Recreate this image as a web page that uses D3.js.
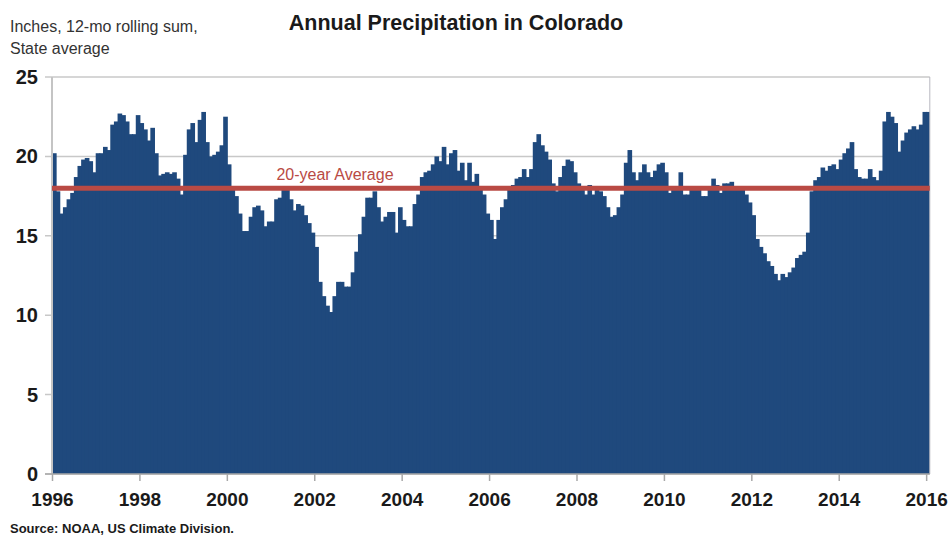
<!DOCTYPE html>
<meta charset="utf-8">
<style>
body { margin: 0; background: #fff; }
svg { display: block; font-family: "Liberation Sans", Arial, Helvetica, sans-serif; }
.axis text { font-weight: bold; fill: #1a1a1a; }
.axis .domain { display: none; }
</style>
<body>
<svg id="chart" width="949" height="537"></svg>
<script src="https://cdnjs.cloudflare.com/ajax/libs/d3/7.8.5/d3.min.js"></script>
<script>
// 12-month rolling precipitation sum, Colorado state average (inches), monthly Jan 1996 .. Jan 2016
var startYear = 1996;
var yTicks = [0, 5, 10, 15, 20, 25];
var tickYears = [1996, 1998, 2000, 2002, 2004, 2006, 2008, 2010, 2012, 2014, 2016];
var twentyYearAverage = 18.0;

var sum1996to2000 = [
  20.2, 17.8, 16.4, 16.8, 17.3, 17.7, 18.7, 19.4, 19.8, 19.9, 19.7, 19.0,
  20.2, 20.2, 20.6, 20.4, 22.0, 22.2, 22.7, 22.6, 22.2, 21.4, 21.4, 22.6,
  22.1, 21.7, 21.0, 21.8, 20.2, 18.8, 18.9, 19.0, 18.9, 19.0, 18.6, 17.6,
  20.1, 21.7, 22.1, 20.9, 22.3, 22.8, 20.9, 20.0, 20.1, 20.3, 20.7, 22.5,
  19.5, 18.0, 17.5, 16.4, 15.3, 15.3, 16.2, 16.8, 16.9, 16.6, 15.6, 15.9
];
var sum2001to2005 = [
  15.9, 17.3, 17.4, 17.9, 17.9, 17.3, 16.6, 17.0, 16.9, 16.3, 15.8, 15.2,
  14.3, 12.1, 11.2, 10.6, 10.2, 11.2, 12.1, 12.1, 11.8, 11.8, 12.7, 14.0,
  15.1, 16.2, 17.4, 17.4, 17.8, 16.8, 15.9, 16.2, 16.5, 16.5, 15.2, 16.8,
  16.0, 15.6, 15.6, 17.0, 17.6, 18.7, 19.0, 19.1, 19.5, 20.0, 19.7, 20.6,
  19.5, 20.2, 20.4, 19.1, 19.6, 18.5, 19.6, 18.4, 18.9, 18.1, 17.6, 16.4
];
var sum2006to2010 = [
  16.0, 14.8, 16.0, 16.8, 17.3, 17.9, 18.2, 18.6, 18.7, 19.2, 18.7, 19.2,
  20.9, 21.4, 20.7, 20.3, 19.8, 18.3, 17.8, 18.7, 19.4, 19.8, 19.7, 19.0,
  18.3, 18.1, 17.6, 18.2, 17.6, 17.9, 17.8, 17.5, 16.8, 16.2, 16.3, 16.8,
  17.6, 19.6, 20.4, 19.0, 18.5, 19.0, 19.5, 19.0, 18.7, 19.1, 19.5, 19.6,
  19.0, 17.7, 17.9, 17.9, 19.0, 17.6, 17.6, 17.9, 17.9, 17.9, 17.5, 17.5
];
var sum2011to2016 = [
  17.9, 18.6, 18.2, 17.7, 18.3, 18.3, 18.4, 17.9, 17.9, 17.9, 17.6, 17.1,
  16.3, 14.8, 14.3, 13.9, 13.4, 13.1, 12.6, 12.2, 12.6, 12.4, 12.7, 13.0,
  13.6, 13.8, 14.0, 15.2, 17.8, 18.5, 18.7, 19.3, 19.1, 19.4, 19.5, 19.2,
  19.8, 20.2, 20.5, 20.9, 19.2, 18.7, 18.6, 18.6, 19.2, 18.7, 18.5, 19.1,
  22.2, 22.8, 22.5, 22.1, 20.3, 21.0, 21.5, 21.7, 21.9, 21.7, 22.0, 22.8,
  22.8
];

var rollingSum = sum1996to2000.concat(sum2001to2005, sum2006to2010, sum2011to2016);

var svg = d3.select("#chart"),
    plotLeft = 52, plotRight = 929.8, plotTop = 77, plotBottom = 474,
    barColor = "#1f497d", avgColor = "#b94a44";

var x = d3.scaleLinear().domain([0, rollingSum.length]).range([plotLeft, plotRight]);
var y = d3.scaleLinear().domain([0, 25]).range([plotBottom, plotTop]);

// gridlines (extend a little left of the axis, like tick marks)
svg.append("g").selectAll("line").data(yTicks).enter().append("line")
  .attr("x1", plotLeft - 7).attr("x2", plotRight)
  .attr("y1", function (d) { return y(d); }).attr("y2", function (d) { return y(d); })
  .attr("stroke", "#c8c8c8").attr("stroke-width", 1.5);

// bars - overlap each one slightly so no seams show between months
svg.append("g").selectAll("rect").data(rollingSum).enter().append("rect")
  .attr("x", function (d, i) { return x(i); })
  .attr("width", function (d, i) { return i === rollingSum.length - 1 ? x(i + 1) - x(i) : x(i + 1) - x(i) + 1; })
  .attr("y", function (d) { return y(d); })
  .attr("height", function (d) { return y(0) - y(d); })
  .attr("fill", barColor);

// frame lines
svg.append("line").attr("x1", plotLeft).attr("x2", plotLeft).attr("y1", plotTop).attr("y2", plotBottom)
  .attr("stroke", "#c4c4c4").attr("stroke-width", 2);
svg.append("line").attr("x1", plotRight).attr("x2", plotRight).attr("y1", plotTop).attr("y2", plotBottom)
  .attr("stroke", "#b8b8c0").attr("stroke-width", 1);
svg.append("line").attr("x1", plotLeft - 7).attr("x2", plotRight).attr("y1", plotBottom).attr("y2", plotBottom)
  .attr("stroke", "#a8a8a8").attr("stroke-width", 1.5);

// axes
var yAxis = svg.append("g").attr("class", "axis")
  .attr("transform", "translate(" + plotLeft + ",0)")
  .call(d3.axisLeft(y).tickValues(yTicks).tickSize(0).tickPadding(14));
yAxis.selectAll("text").style("font-size", "20px");

var xAxis = svg.append("g").attr("class", "axis")
  .attr("transform", "translate(0," + plotBottom + ")")
  .call(d3.axisBottom(x)
    .tickValues(tickYears.map(function (yr) { return (yr - startYear) * 12; }))
    .tickFormat(function (d) { return startYear + d / 12; })
    .tickSize(7).tickPadding(12));
xAxis.selectAll("line").attr("stroke", "#a8a8a8").attr("stroke-width", 1.5);
xAxis.selectAll("text").style("font-size", "19px");

// 20-year average line + label
svg.append("line")
  .attr("x1", plotLeft).attr("x2", plotRight)
  .attr("y1", y(twentyYearAverage)).attr("y2", y(twentyYearAverage))
  .attr("stroke", avgColor).attr("stroke-width", 5);
svg.append("text")
  .attr("x", 335).attr("y", y(twentyYearAverage) - 8)
  .attr("text-anchor", "middle")
  .attr("fill", avgColor)
  .style("font-size", "16px")
  .text("20-year Average");

// titles
svg.append("text").attr("x", 456).attr("y", 30).attr("text-anchor", "middle")
  .style("font-size", "21.5px").style("font-weight", "bold").attr("fill", "#1a1a1a")
  .text("Annual Precipitation in Colorado");
svg.append("text").attr("x", 10).attr("y", 31.5)
  .style("font-size", "16px").attr("fill", "#333")
  .text("Inches, 12-mo rolling sum,");
svg.append("text").attr("x", 10).attr("y", 54)
  .style("font-size", "16px").attr("fill", "#333")
  .text("State average");
svg.append("text").attr("x", 10).attr("y", 533)
  .style("font-size", "13px").style("font-weight", "bold").attr("fill", "#1a1a1a")
  .text("Source: NOAA, US Climate Division.");
</script>
</body>
